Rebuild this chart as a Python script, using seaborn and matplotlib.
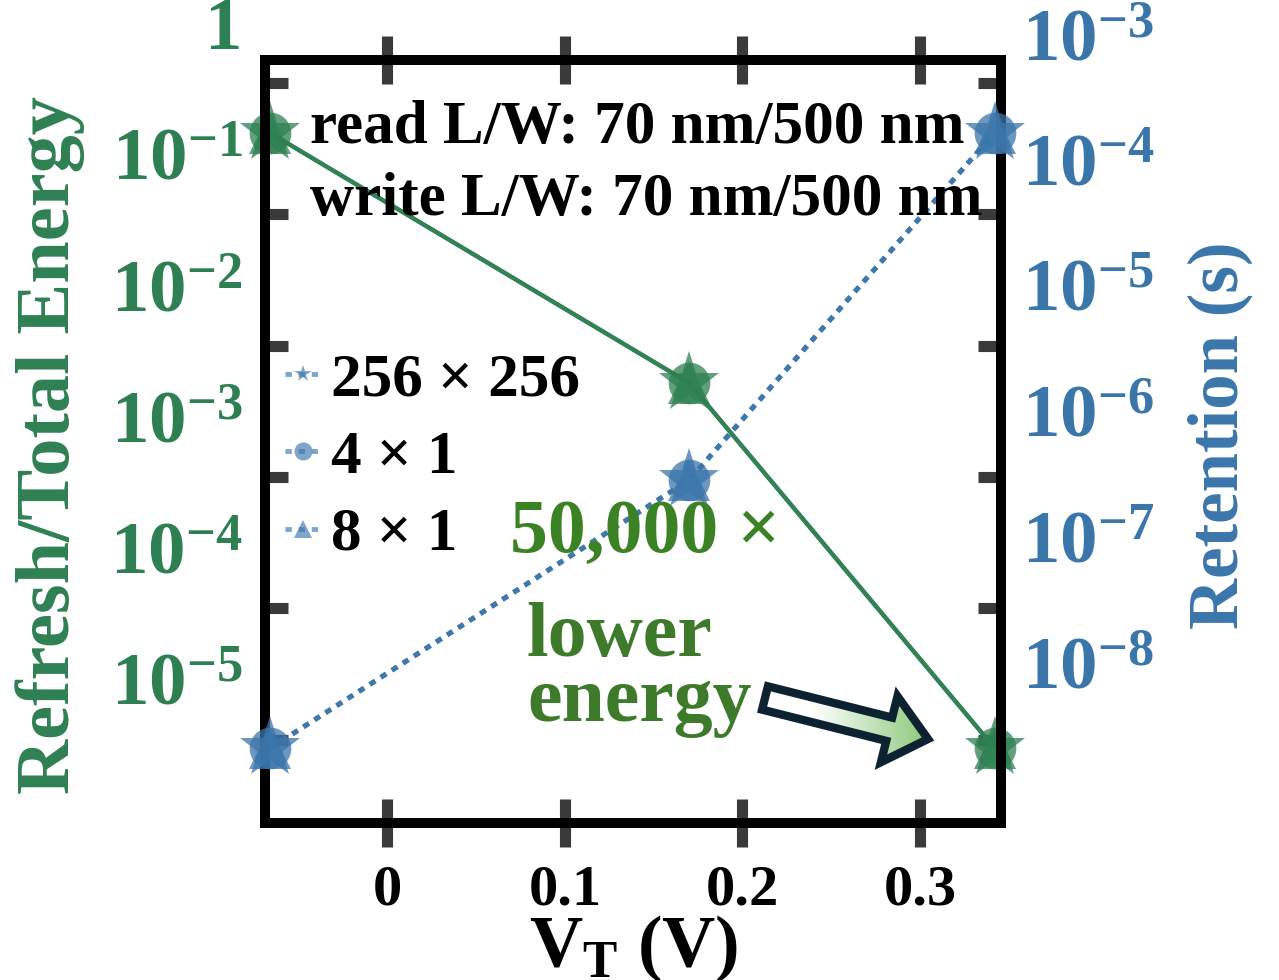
import numpy as np
import matplotlib
matplotlib.use("Agg")
import matplotlib.pyplot as plt
import seaborn as sns
from matplotlib.patches import FancyArrow
from matplotlib.colors import LinearSegmentedColormap
from matplotlib.transforms import blended_transform_factory
from matplotlib.ticker import FixedLocator, NullLocator, NullFormatter

# threshold voltage sweep (V)
vt = [-0.066, 0.170, 0.342]
# refresh / total energy ratio at each V_T
energy_ratio = [0.166, 2.07e-3, 3.43e-6]
# retention time (s) at each V_T
retention_s = [2.39e-9, 3.26e-7, 1.89e-4]

array_sizes = ["256 × 256", "4 × 1", "8 × 1"]
size_markers = ["*", "o", "^"]
marker_sizes = [46, 30, 30]

x_ticks = [0, 0.1, 0.2, 0.3]
x_tick_labels = ["0", "0.1", "0.2", "0.3"]
energy_decades = [0, -1, -2, -3, -4, -5]
retention_decades = [-3, -4, -5, -6, -7, -8]

GREEN = "#2e8052"
BLUE = "#3b76ab"
TICK_GRAY = "#3a3a3a"

sns.set_theme(style="white")
plt.rcParams.update({
    "font.family": ["Liberation Serif", "DejaVu Serif"],
    "font.weight": "bold",
    "axes.labelweight": "bold",
    "text.color": "black",
    "axes.labelcolor": "black",
    "mathtext.fontset": "custom",
    "mathtext.rm": "Liberation Serif:bold",
    "mathtext.bf": "Liberation Serif:bold",
    "mathtext.it": "Liberation Serif:bold:italic",
})

fig = plt.figure(figsize=(12.79, 9.8), dpi=100)
ax = fig.add_axes([0.2072, 0.1602, 0.5755, 0.7786])
ax2 = ax.twinx()

# energy ratio (left axis), one trace per array size
for m, ms in zip(size_markers, marker_sizes):
    sns.lineplot(x=vt, y=energy_ratio, ax=ax, color=GREEN, linewidth=3,
                 marker=m, markersize=ms, markeredgewidth=0, alpha=0.75,
                 legend=False, clip_on=False)

# retention (right axis), one trace per array size
for label, m, ms in zip(array_sizes, size_markers, marker_sizes):
    sns.lineplot(x=vt, y=retention_s, ax=ax2, color=BLUE, linewidth=3.5,
                 linestyle=(0, (1.3, 1.4)), marker=m, markersize=ms,
                 markeredgewidth=0, alpha=0.75, label=label, clip_on=False)

ax.set_yscale("log")
ax2.set_yscale("log")
ax.set_xlim(-0.069, 0.3457)
ax.set_ylim(10 ** -6.036, 10 ** -0.223)
ax2.set_ylim(10 ** -9.218, 10 ** -3.143)

# x ticks crossing the frame, top and bottom
ax.set_xticks(x_ticks)
ax.set_xticklabels(x_tick_labels)
ax.tick_params(axis="x", which="major", direction="inout", length=34, width=8,
               color=TICK_GRAY, top=True, bottom=True, labelsize=42, pad=13,
               labelcolor="black")

# inward y tick stubs on both sides of the frame
ax.yaxis.set_major_locator(FixedLocator([10 ** (-0.4 - k) for k in range(6)]))
ax.yaxis.set_major_formatter(NullFormatter())
ax.yaxis.set_minor_locator(NullLocator())
ax.tick_params(axis="y", which="major", direction="in", length=16.5, width=8,
               color=TICK_GRAY, left=True, right=True, labelleft=False,
               labelright=False)
ax2.yaxis.set_major_locator(NullLocator())
ax2.yaxis.set_minor_locator(NullLocator())

# decade labels
tl = blended_transform_factory(ax.transAxes, ax.transData)
for k in energy_decades:
    lab = "1" if k == 0 else rf"$\mathbf{{10^{{{k}}}}}$"
    ax.text(-0.030, 10.0 ** k, lab, transform=tl, ha="right", va="center",
            color=GREEN, fontsize=54, clip_on=False)
tr = blended_transform_factory(ax2.transAxes, ax2.transData)
for k in retention_decades:
    ax2.text(1.0285, 10.0 ** k, rf"$\mathbf{{10^{{{k}}}}}$", transform=tr,
             ha="left", va="center", color=BLUE, fontsize=54, clip_on=False)

for a in (ax, ax2):
    for s in a.spines.values():
        s.set_linewidth(7.2)
        s.set_color("black")
        s.set_zorder(1.5)

ax.set_xlabel(r"$\mathbf{V_T}$ (V)", fontsize=53, color="black")
ax.xaxis.set_label_coords(0.501, -0.118)
ax.set_ylabel("Refresh/Total Energy", fontsize=55, color=GREEN)
ax.yaxis.set_label_coords(-0.2446, 0.495)
ax2.set_ylabel("Retention (s)", fontsize=51, color=BLUE)
ax2.yaxis.set_label_coords(1.254, 0.508)

handles, labels = ax2.get_legend_handles_labels()
leg = ax2.legend(handles, labels, loc="upper left", bbox_to_anchor=(0.027, 0.617),
                 frameon=False, borderpad=0, borderaxespad=0, handlelength=0.6,
                 handletextpad=0.15, labelspacing=0.35, labelcolor="black",
                 prop={"size": 44, "weight": "bold"})
for h in leg.legend_handles:
    h.set_markersize(13)
    h.set_alpha(0.65)

# annotation layer in figure pixel units
ov = fig.add_axes([0, 0, 1, 1], zorder=10)
ov.axis("off")

ov.text(310, 143, "read L/W: 70 nm/500 nm", fontsize=44, va="baseline",
        ha="left", color="black")
ov.text(310, 215, "write L/W: 70 nm/500 nm", fontsize=44, va="baseline",
        ha="left", color="black")
ov.text(510, 552, "50,000 ×", fontsize=54.5, va="baseline", ha="left",
        color="#3b8224")
ov.text(527, 656, "lower", fontsize=56, va="baseline", ha="left",
        color="#3d7a29")
ov.text(527, 721, "energy", fontsize=56, va="baseline", ha="left",
        color="#3d7a29")

arrow = FancyArrow(765, 698, 163, 41, width=24, head_width=68, head_length=40,
                   length_includes_head=True, facecolor="none",
                   edgecolor="#0c2230", linewidth=6, joinstyle="miter",
                   zorder=3)
ov.add_patch(arrow)
fade = LinearSegmentedColormap.from_list(
    "fade", [(0.0, "white"), (0.3, "white"), (1.0, "#86c673")])
grad = np.linspace(0, 1, 256).reshape(1, -1)
im = ov.imshow(grad, extent=(760, 935, 775, 675), cmap=fade, aspect="auto",
               interpolation="bilinear", zorder=2)
im.set_clip_path(arrow)

ov.set_xlim(0, 1279)
ov.set_ylim(980, 0)

fig.savefig("out.png", dpi=100)
